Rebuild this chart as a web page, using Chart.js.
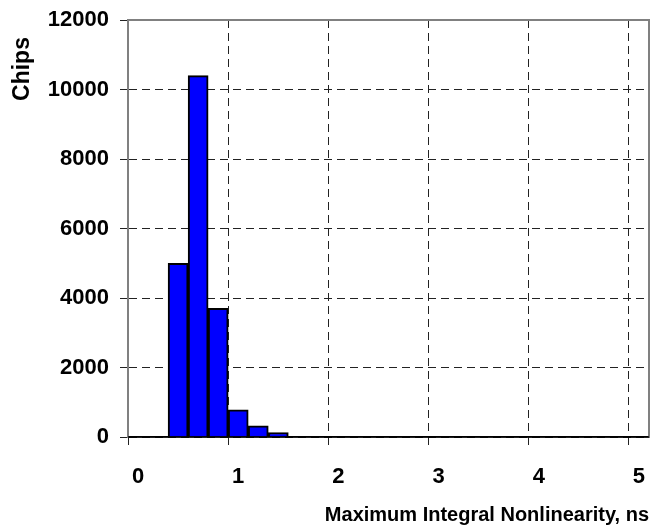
<!DOCTYPE html>
<html>
<head>
<meta charset="utf-8">
<script src="https://cdn.jsdelivr.net/npm/chart.js@4/dist/chart.umd.min.js"></script>
<style>
  html, body { margin: 0; padding: 0; background: #fff; }
  #wrap { width: 665px; height: 531px; }
</style>
</head>
<body>
<div id="wrap"><canvas id="myChart" width="665" height="531"></canvas></div>
<script>
// histogram bins (bin centres, ns) and chip counts
var binCenters = [0.5, 0.7, 0.9, 1.1, 1.3, 1.5];
var chipCounts = [5000, 10400, 3700, 780, 320, 130];
var xTicks = [0, 1, 2, 3, 4, 5];
var yTicks = [0, 2000, 4000, 6000, 8000, 10000, 12000];

var points = binCenters.map(function (c, i) { return {x: c, y: chipCounts[i]}; });

var tickFont = {family: 'Liberation Sans, Arial, sans-serif', weight: 'bold', size: 22};
var titleFont = {family: 'Liberation Sans, Arial, sans-serif', weight: 'bold', size: 20};

// gray frame on top/right, black baseline, and the y title near the top
var framePlugin = {
  id: 'frame',
  afterDraw: function (chart) {
    var a = chart.chartArea, c = chart.ctx;
    c.save();
    c.strokeStyle = '#808080';
    c.lineWidth = 2;
    c.beginPath();
    c.moveTo(a.left, a.top);
    c.lineTo(a.right, a.top);
    c.lineTo(a.right, a.bottom);
    c.stroke();
    c.strokeStyle = '#000';
    c.lineWidth = 1.5;
    c.beginPath();
    c.moveTo(a.left, a.bottom);
    c.lineTo(a.right, a.bottom);
    c.stroke();
    // y axis title
    c.translate(23, a.top + 49);
    c.rotate(-Math.PI / 2);
    c.fillStyle = '#000';
    c.font = 'bold 23px "Liberation Sans", Arial, sans-serif';
    c.textAlign = 'center';
    c.textBaseline = 'middle';
    c.fillText('Chips', 0, 0);
    c.restore();
  }
};

var ctx = document.getElementById('myChart').getContext('2d');
var myChart = new Chart(ctx, {
  type: 'bar',
  data: {
    datasets: [{
      data: points,
      backgroundColor: '#0000FF',
      borderColor: '#000',
      borderWidth: 2,
      barPercentage: 1,
      categoryPercentage: 1
    }]
  },
  options: {
    responsive: false,
    animation: false,
    layout: {padding: {top: 20, right: 16, left: 0, bottom: 0}},
    plugins: {legend: {display: false}, tooltip: {enabled: false}},
    scales: {
      x: {
        type: 'linear',
        offset: false,
        min: 0,
        max: 5.2,
        afterFit: function (s) { s.height = 94; s.paddingLeft = 0; s.paddingRight = 0; },
        afterBuildTicks: function (s) { s.ticks = xTicks.map(function (v) { return {value: v}; }); },
        ticks: {color: '#000', font: tickFont, padding: 19, labelOffset: 10, includeBounds: false,
          callback: function (v) { return String(v); }},
        grid: {offset: false, color: '#222', lineWidth: 1, tickLength: 8, tickColor: '#222', tickBorderDash: []},
        border: {display: true, color: '#000', width: 1.5, dash: [8, 5]},
        title: {display: true, text: 'Maximum Integral Nonlinearity, ns', align: 'end', color: '#000', font: titleFont, padding: {top: 0, bottom: 4}}
      },
      y: {
        min: 0,
        max: 12000,
        afterFit: function (s) { s.width = 128; s.paddingTop = 0; s.paddingBottom = 0; },
        afterBuildTicks: function (s) { s.ticks = yTicks.map(function (v) { return {value: v}; }); },
        ticks: {color: '#000', font: tickFont, padding: 11,
          callback: function (v) { return String(v); }},
        grid: {color: '#222', lineWidth: 1, tickLength: 8, tickColor: '#222', tickBorderDash: []},
        border: {display: true, color: '#808080', width: 2, dash: [8, 5]},
        title: {display: false}
      }
    }
  },
  plugins: [framePlugin]
});
</script>
</body>
</html>
